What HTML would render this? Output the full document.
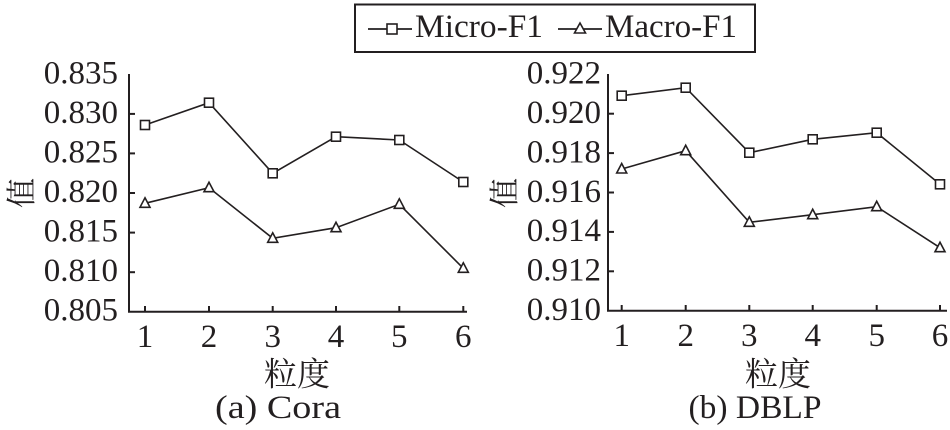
<!DOCTYPE html>
<html><head><meta charset="utf-8"><style>
html,body{margin:0;padding:0;background:#fff;}
svg{display:block;}
</style></head><body>
<svg width="950" height="430" viewBox="0 0 950 430" xmlns="http://www.w3.org/2000/svg" style="font-family:'Liberation Serif','Times New Roman','Noto Serif CJK SC',serif;">
<!-- Legend -->
<rect x="355" y="4.5" width="400" height="47.5" fill="none" stroke="#231f20" stroke-width="2"/>
<line x1="368" y1="29" x2="412" y2="29" stroke="#231f20" stroke-width="1.8"/>
<rect x="387" y="24" width="10" height="10" fill="#fff" stroke="#231f20" stroke-width="1.6"/>
<text x="415" y="37" font-size="33" fill="#231f20" style="font-family:'Liberation Serif','Times New Roman',serif;" textLength="128" lengthAdjust="spacingAndGlyphs">Micro-F1</text>
<line x1="558" y1="29" x2="602" y2="29" stroke="#231f20" stroke-width="1.8"/>
<polygon points="580,23 585.5,33 574.5,33" fill="#fff" stroke="#231f20" stroke-width="1.6"/>
<text x="605" y="37" font-size="33" fill="#231f20" style="font-family:'Liberation Serif','Times New Roman',serif;" textLength="132" lengthAdjust="spacingAndGlyphs">Macro-F1</text>

<!-- Left chart -->
<g stroke="#231f20" stroke-width="2" fill="none">
<polyline points="129,74 129,311.7 467,311.7"/>
<line x1="129" y1="113.9" x2="135" y2="113.9"/>
<line x1="129" y1="153.4" x2="135" y2="153.4"/>
<line x1="129" y1="193" x2="135" y2="193"/>
<line x1="129" y1="232.6" x2="135" y2="232.6"/>
<line x1="129" y1="272.2" x2="135" y2="272.2"/>
<line x1="145" y1="311.7" x2="145" y2="306"/>
<line x1="209" y1="311.7" x2="209" y2="306"/>
<line x1="272.7" y1="311.7" x2="272.7" y2="306"/>
<line x1="336" y1="311.7" x2="336" y2="306"/>
<line x1="399.3" y1="311.7" x2="399.3" y2="306"/>
<line x1="463.3" y1="311.7" x2="463.3" y2="306"/>
</g>
<g font-size="33" text-anchor="end" fill="#231f20" style="font-family:'Liberation Serif','Times New Roman',serif;">
<text x="118" y="83.5">0.835</text>
<text x="118" y="123">0.830</text>
<text x="118" y="162.5">0.825</text>
<text x="118" y="202">0.820</text>
<text x="118" y="241.5">0.815</text>
<text x="118" y="281">0.810</text>
<text x="118" y="320.5">0.805</text>
</g>
<g font-size="33" text-anchor="middle" fill="#231f20" style="font-family:'Liberation Serif','Times New Roman',serif;">
<text x="145" y="347">1</text>
<text x="209" y="347">2</text>
<text x="272.7" y="347">3</text>
<text x="336" y="347">4</text>
<text x="399.3" y="347">5</text>
<text x="463.3" y="347">6</text>
</g>
<polyline points="145,125 209,102.7 272.7,173.3 336,136.7 399.3,140 463.3,182" fill="none" stroke="#231f20" stroke-width="1.6"/>
<polyline points="145,203.3 209,187.7 272.7,238.3 336,227.7 399.3,204.3 463.3,268.3" fill="none" stroke="#231f20" stroke-width="1.6"/>
<g fill="#fff" stroke="#231f20" stroke-width="1.6">
<rect x="140.5" y="120.5" width="9" height="9"/>
<rect x="204.5" y="98.2" width="9" height="9"/>
<rect x="268.2" y="168.8" width="9" height="9"/>
<rect x="331.5" y="132.2" width="9" height="9"/>
<rect x="394.8" y="135.5" width="9" height="9"/>
<rect x="458.8" y="177.5" width="9" height="9"/>
<polygon points="145,197.8 150,207.3 140,207.3"/>
<polygon points="209,182.2 214,191.7 204,191.7"/>
<polygon points="272.7,232.8 277.7,242.3 267.7,242.3"/>
<polygon points="336,222.2 341,231.7 331,231.7"/>
<polygon points="399.3,198.8 404.3,208.3 394.3,208.3"/>
<polygon points="463.3,262.8 468.3,272.3 458.3,272.3"/>
</g>
<text font-size="30" fill="#231f20" style="font-family:'Noto Serif CJK SC','Noto Sans CJK SC',serif;" text-anchor="middle" dominant-baseline="central" transform="translate(19,193) rotate(-90)">值</text>
<text x="297" y="372" font-size="33" fill="#231f20" style="font-family:'Noto Serif CJK SC','Noto Sans CJK SC',serif;" text-anchor="middle" dominant-baseline="central">粒度</text>
<text x="278" y="418" font-size="33" fill="#231f20" style="font-family:'Liberation Serif','Times New Roman',serif;" text-anchor="middle" textLength="126" lengthAdjust="spacingAndGlyphs">(a) Cora</text>

<!-- Right chart -->
<g stroke="#231f20" stroke-width="2" fill="none">
<polyline points="608,74 608,310.7 947,310.7"/>
<line x1="608" y1="113.7" x2="614" y2="113.7"/>
<line x1="608" y1="153.1" x2="614" y2="153.1"/>
<line x1="608" y1="192.5" x2="614" y2="192.5"/>
<line x1="608" y1="231.9" x2="614" y2="231.9"/>
<line x1="608" y1="271.3" x2="614" y2="271.3"/>
<line x1="621.7" y1="310.7" x2="621.7" y2="305"/>
<line x1="685.7" y1="310.7" x2="685.7" y2="305"/>
<line x1="749.3" y1="310.7" x2="749.3" y2="305"/>
<line x1="812.7" y1="310.7" x2="812.7" y2="305"/>
<line x1="876.7" y1="310.7" x2="876.7" y2="305"/>
<line x1="940" y1="310.7" x2="940" y2="305"/>
</g>
<g font-size="33" text-anchor="end" fill="#231f20" style="font-family:'Liberation Serif','Times New Roman',serif;">
<text x="601" y="83.5">0.922</text>
<text x="601" y="123">0.920</text>
<text x="601" y="162.5">0.918</text>
<text x="601" y="202">0.916</text>
<text x="601" y="241">0.914</text>
<text x="601" y="280.5">0.912</text>
<text x="601" y="320">0.910</text>
</g>
<g font-size="33" text-anchor="middle" fill="#231f20" style="font-family:'Liberation Serif','Times New Roman',serif;">
<text x="621.7" y="346">1</text>
<text x="685.7" y="346">2</text>
<text x="749.3" y="346">3</text>
<text x="812.7" y="346">4</text>
<text x="876.7" y="346">5</text>
<text x="940" y="346">6</text>
</g>
<polyline points="621.7,95.7 685.7,87.7 749.3,152.7 812.7,139.3 876.7,132.7 940,184.3" fill="none" stroke="#231f20" stroke-width="1.6"/>
<polyline points="621.7,169 685.7,150.7 749.3,222.3 812.7,214.7 876.7,206.7 940,247.7" fill="none" stroke="#231f20" stroke-width="1.6"/>
<g fill="#fff" stroke="#231f20" stroke-width="1.6">
<rect x="617.2" y="91.2" width="9" height="9"/>
<rect x="681.2" y="83.2" width="9" height="9"/>
<rect x="744.8" y="148.2" width="9" height="9"/>
<rect x="808.2" y="134.8" width="9" height="9"/>
<rect x="872.2" y="128.2" width="9" height="9"/>
<rect x="935.5" y="179.8" width="9" height="9"/>
<polygon points="621.7,163.5 626.7,173 616.7,173"/>
<polygon points="685.7,145.2 690.7,154.7 680.7,154.7"/>
<polygon points="749.3,216.8 754.3,226.3 744.3,226.3"/>
<polygon points="812.7,209.2 817.7,218.7 807.7,218.7"/>
<polygon points="876.7,201.2 881.7,210.7 871.7,210.7"/>
<polygon points="940,242.2 945,251.7 935,251.7"/>
</g>
<text font-size="30" fill="#231f20" style="font-family:'Noto Serif CJK SC','Noto Sans CJK SC',serif;" text-anchor="middle" dominant-baseline="central" transform="translate(502,193) rotate(-90)">值</text>
<text x="778" y="372" font-size="33" fill="#231f20" style="font-family:'Noto Serif CJK SC','Noto Sans CJK SC',serif;" text-anchor="middle" dominant-baseline="central">粒度</text>
<text x="755" y="418" font-size="33" fill="#231f20" style="font-family:'Liberation Serif','Times New Roman',serif;" text-anchor="middle" textLength="133" lengthAdjust="spacingAndGlyphs">(b) DBLP</text>
</svg>
</body></html>
